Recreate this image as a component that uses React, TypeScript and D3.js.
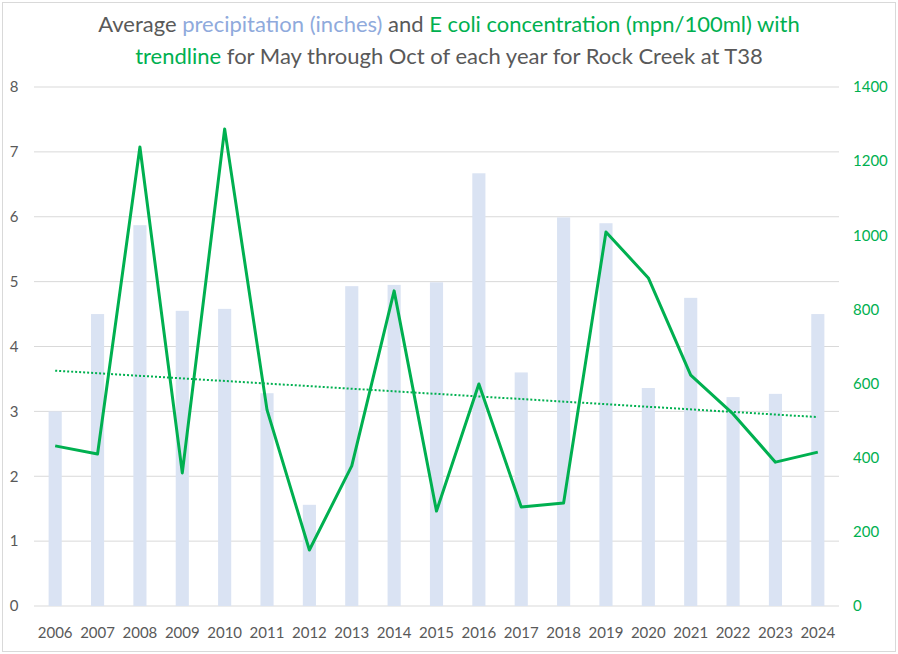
import { useEffect } from "react";
import * as d3 from "d3";

// data
const years = [
  "2006", "2007", "2008", "2009", "2010", "2011", "2012", "2013", "2014", "2015",
  "2016", "2017", "2018", "2019", "2020", "2021", "2022", "2023", "2024",
];
const precipitation = [
  3.0, 4.5, 5.87, 4.55, 4.58, 3.28, 1.56, 4.93, 4.95, 4.99,
  6.67, 3.6, 5.99, 5.9, 3.36, 4.75, 3.22, 3.27, 4.5,
];
const ecoli = [
  432, 410, 1238, 359, 1287, 529, 151, 378, 850, 256,
  599, 267, 278, 1009, 885, 623, 518, 388, 415,
];
const leftTicks = [0, 1, 2, 3, 4, 5, 6, 7, 8];
const rightTicks = [0, 200, 400, 600, 800, 1000, 1200, 1400];

const W = 898;
const H = 654;
const margin = { top: 87, right: 59, bottom: 48, left: 34 };
const GRAY = "#595959";
const GREEN = "#00b050";
const BLUE = "#8faadc";
const FONT = "Lato, 'Open Sans', sans-serif";

export default function App() {
  useEffect(() => {
    document.body.style.margin = "0";
  }, []);

  const x = d3
    .scaleBand<string>()
    .domain(years)
    .range([margin.left, W - margin.right])
    .paddingInner(0.69)
    .paddingOuter(0.345);
  const yL = d3.scaleLinear().domain([0, 8]).range([H - margin.bottom, margin.top]);
  const yR = d3.scaleLinear().domain([0, 1400]).range([H - margin.bottom, margin.top]);
  const cx = (y: string) => (x(y) ?? 0) + x.bandwidth() / 2;

  const line = d3
    .line<number>()
    .x((_, i) => cx(years[i]))
    .y((d) => yR(d));

  // linear trendline (least squares) for the E coli series
  const n = ecoli.length;
  const mx = d3.mean(ecoli.map((_, i) => i))!;
  const my = d3.mean(ecoli)!;
  const slope =
    d3.sum(ecoli.map((v, i) => (i - mx) * (v - my))) /
    d3.sum(ecoli.map((_, i) => (i - mx) * (i - mx)));
  const icpt = my - slope * mx;

  return (
    <svg width={W} height={H} style={{ display: "block", fontFamily: FONT }}>
      <rect x={2.5} y={2.5} width={W - 5} height={H - 5} fill="#fff" stroke="#d9d9d9" />
      <text x={W / 2} y={32} textAnchor="middle" fontSize={22} fill={GRAY}>
        <tspan>Average </tspan>
        <tspan fill={BLUE}>precipitation (inches)</tspan>
        <tspan> and </tspan>
        <tspan fill={GREEN}>E coli concentration (mpn/100ml) with</tspan>
      </text>
      <text x={W / 2} y={64} textAnchor="middle" fontSize={22} fill={GRAY}>
        <tspan fill={GREEN}>trendline</tspan>
        <tspan> for May through Oct of each year for Rock Creek at T38</tspan>
      </text>

      {leftTicks.map((t) => (
        <g key={t}>
          <line
            x1={margin.left}
            x2={W - margin.right}
            y1={yL(t)}
            y2={yL(t)}
            stroke="#d9d9d9"
            strokeWidth={1}
          />
          <text x={14} y={yL(t)} dy="0.35em" textAnchor="middle" fontSize={15} fill={GRAY}>
            {t}
          </text>
        </g>
      ))}
      {rightTicks.map((t) => (
        <text key={t} x={853} y={yR(t)} dy="0.35em" fontSize={15} fill={GREEN}>
          {t}
        </text>
      ))}

      {years.map((y, i) => (
        <rect
          key={y}
          x={x(y)}
          y={yL(precipitation[i])}
          width={x.bandwidth()}
          height={yL(0) - yL(precipitation[i])}
          fill="#dae3f3"
        />
      ))}

      <line
        x1={cx(years[0])}
        x2={cx(years[n - 1])}
        y1={yR(icpt)}
        y2={yR(icpt + slope * (n - 1))}
        stroke={GREEN}
        strokeWidth={2}
        strokeDasharray="2,2"
      />
      <path d={line(ecoli) ?? ""} fill="none" stroke={GREEN} strokeWidth={3} strokeLinejoin="round" />

      {years.map((y) => (
        <text key={y} x={cx(y)} y={633} dy="0.35em" textAnchor="middle" fontSize={15} fill={GRAY}>
          {y}
        </text>
      ))}
    </svg>
  );
}
